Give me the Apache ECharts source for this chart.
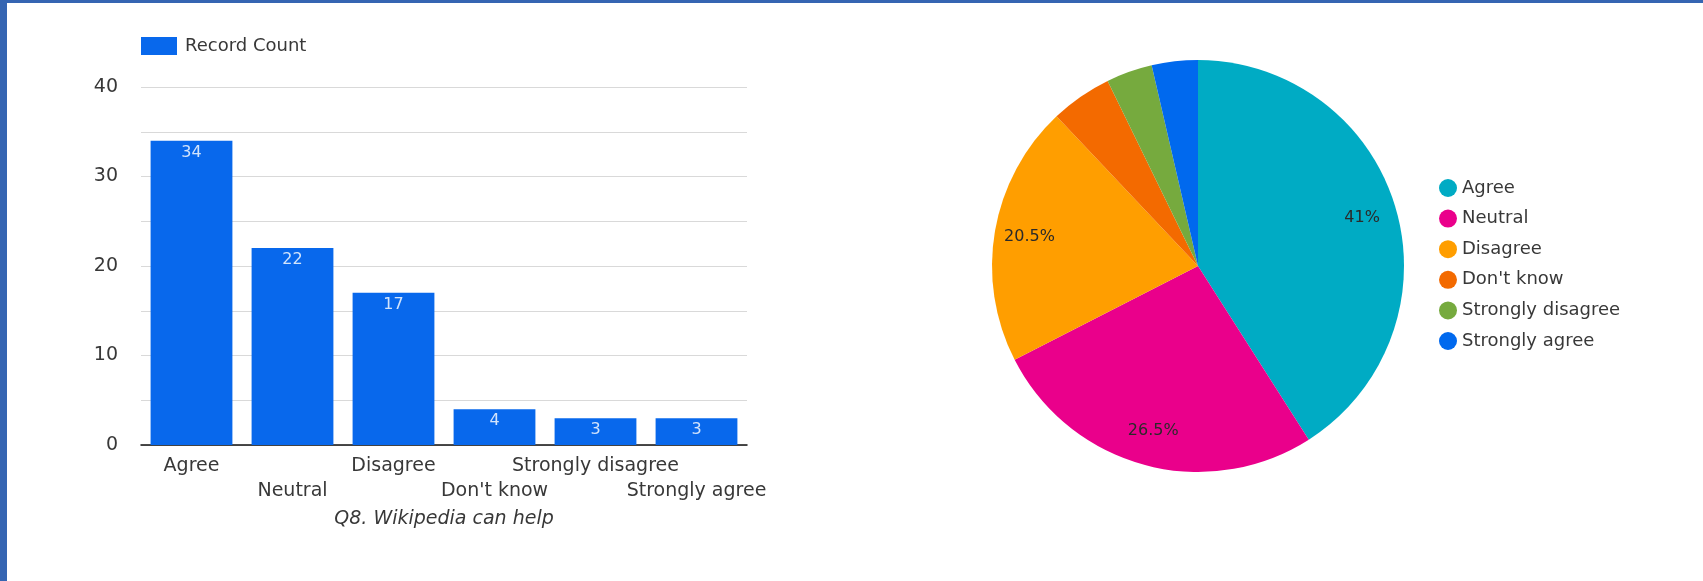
<!DOCTYPE html>
<html>
<head>
<meta charset="utf-8">
<script src="https://cdn.jsdelivr.net/npm/echarts@6/dist/echarts.min.js"></script>
<style>
  html, body { margin: 0; padding: 0; background: #ffffff; }
  #wrap { position: relative; width: 1703px; height: 581px; overflow: hidden; }
  #chart { position: absolute; left: 0; top: 0; width: 1703px; height: 581px; }
  .edge { position: absolute; background: #3565b2; z-index: 5; }
  #edgeLeft { left: 0; top: 0; width: 7px; height: 581px; }
  #edgeTop { left: 0; top: 0; width: 1703px; height: 3px; }
</style>
</head>
<body>
<div id="wrap">
  <div id="chart"></div>
  <div class="edge" id="edgeLeft"></div>
  <div class="edge" id="edgeTop"></div>
</div>
<script>
// Survey answers for "Q8. Wikipedia can help"
const categories = ['Agree', 'Neutral', 'Disagree', "Don't know", 'Strongly disagree', 'Strongly agree'];
const recordCounts = [34, 22, 17, 4, 3, 3];
const sliceColors = ['#00abc4', '#ea008b', '#ff9e00', '#f36a00', '#76aa3e', '#0069ee'];
const barColor = '#0868ec';
const questionTitle = 'Q8. Wikipedia can help';
const seriesName = 'Record Count';

const FONT = 'DejaVu Sans';
const TEXT = '#383838';

const pieData = categories.map((name, i) => ({
  name: name,
  value: recordCounts[i],
  itemStyle: { color: sliceColors[i] }
}));

const chart = echarts.init(document.getElementById('chart'), null, { renderer: 'canvas' });

chart.setOption({
  animation: false,
  backgroundColor: '#ffffff',
  textStyle: { fontFamily: FONT },
  legend: [
    {
      data: [seriesName],
      left: 136,
      top: 32,
      itemWidth: 36,
      itemHeight: 18,
      icon: 'rect',
      textStyle: { fontFamily: FONT, fontSize: 18, color: TEXT, padding: [0, 0, 0, 3] }
    },
    {
      data: categories,
      orient: 'vertical',
      left: 1434,
      top: 174,
      itemWidth: 18,
      itemHeight: 18,
      itemGap: 12.6,
      icon: 'circle',
      textStyle: { fontFamily: FONT, fontSize: 18, color: TEXT }
    }
  ],
  grid: { left: 141, right: 956, top: 87, bottom: 136, containLabel: false },
  xAxis: {
    type: 'category',
    data: categories,
    name: questionTitle,
    nameLocation: 'middle',
    nameGap: 65,
    nameTextStyle: { fontFamily: FONT, fontStyle: 'italic', fontSize: 19, color: TEXT },
    axisLine: { show: true, lineStyle: { color: '#111111', width: 1.5 } },
    axisTick: { show: false },
    axisLabel: {
      interval: 0,
      margin: 9,
      fontFamily: FONT,
      fontSize: 19,
      lineHeight: 25,
      color: TEXT,
      formatter: function (value, index) { return index % 2 === 1 ? '\n' + value : value; }
    }
  },
  yAxis: {
    type: 'value',
    min: 0,
    max: 40,
    interval: 5,
    axisLine: { show: false },
    axisTick: { show: false },
    splitLine: { lineStyle: { color: '#d9d9d9', width: 1 } },
    axisLabel: {
      margin: 23,
      fontFamily: FONT,
      fontSize: 19,
      color: TEXT,
      formatter: function (v) { return v % 10 === 0 ? String(v) : ''; }
    }
  },
  series: [
    {
      name: seriesName,
      type: 'bar',
      data: recordCounts,
      barCategoryGap: '19%',
      itemStyle: { color: barColor },
      label: {
        show: true,
        position: 'insideTop',
        distance: 4,
        fontFamily: FONT,
        fontSize: 16,
        color: 'rgba(255,255,255,0.82)'
      }
    },
    {
      name: 'Share',
      type: 'pie',
      center: [1198, 266],
      radius: [0, 206],
      startAngle: 90,
      clockwise: true,
      data: pieData,
      label: { show: false },
      labelLine: { show: false },
      emphasis: { disabled: true }
    },
    {
      // transparent ring that only carries the percentage labels
      name: 'ShareLabels',
      type: 'pie',
      center: [1198, 266],
      radius: [130, 206],
      startAngle: 90,
      clockwise: true,
      silent: true,
      percentPrecision: 1,
      data: categories.map((name, i) => ({ name: name, value: recordCounts[i] })),
      itemStyle: { color: 'rgba(0,0,0,0)' },
      label: {
        show: true,
        position: 'inside',
        fontFamily: FONT,
        fontSize: 16,
        color: '#2a2a2a',
        formatter: function (p) { return p.percent >= 10 ? String(+p.percent.toFixed(1)) + '%' : ''; }
      },
      labelLine: { show: false },
      emphasis: { disabled: true }
    }
  ]
});
</script>
</body>
</html>
